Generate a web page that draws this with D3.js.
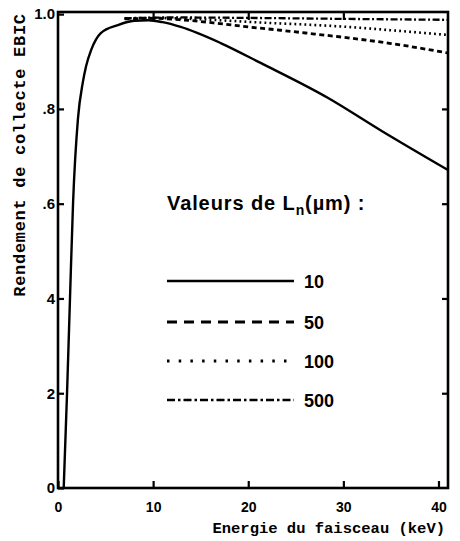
<!DOCTYPE html>
<html>
<head>
<meta charset="utf-8">
<script src="https://cdn.jsdelivr.net/npm/d3@7"></script>
<style>
  html, body { margin: 0; padding: 0; background: #fff; }
  svg { display: block; }
</style>
</head>
<body>
<svg id="chart" width="460" height="541"></svg>
<script>
// ---- data ----
const E10  = [0.6, 0.95, 1.26, 1.58, 2.1, 2.6, 2.95, 3.5, 4.5, 6.3, 8.0, 9.5, 11, 12.9, 17.1, 21.3, 28.4, 33.9, 41];
const R10  = [0, 0.2, 0.4, 0.6, 0.78, 0.855, 0.89, 0.925, 0.96, 0.977, 0.986, 0.987, 0.983, 0.973, 0.939, 0.897, 0.823, 0.755, 0.671];
const E50  = [7, 10, 13, 17, 20, 23.4, 27, 30.5, 35, 41];
const R50  = [0.99, 0.991, 0.988, 0.98, 0.973, 0.966, 0.958, 0.95, 0.938, 0.918];
const E100 = [7, 10, 14, 18, 21.6, 26, 30.5, 35, 41];
const R100 = [0.991, 0.992, 0.99, 0.986, 0.982, 0.978, 0.973, 0.966, 0.956];
const E500 = [7, 12, 20, 30, 41];
const R500 = [0.991, 0.993, 0.992, 0.99, 0.988];

const seriesNames = ["10", "50", "100", "500"];
const xTickValues = [0, 10, 20, 30, 40];
const xTickLabels = ["0", "10", "20", "30", "40"];
const yTickValues = [0, 0.2, 0.4, 0.6, 0.8, 1.0];
const yTickLabels = ["0", "2", "4", ".6", ".8", "1.0"];
const xTitle = "Energie du faisceau (keV)";
const yTitle = "Rendement de collecte EBIC";

// ---- layout ----
const svg = d3.select("#chart");
const L = 58, R = 448, T = 12, B = 488;
const x = d3.scaleLinear().domain([0, 41]).range([L, R]);
const y = d3.scaleLinear().domain([0, 1.0045]).range([B, T]);

svg.append("rect").attr("width", 460).attr("height", 541).attr("fill", "#fff");

const series = [
  { name: seriesNames[0], E: E10,  R: R10,  dash: null,       ldash: null,        w: 2.4 },
  { name: seriesNames[1], E: E50,  R: R50,  dash: "5,3.5",    ldash: "10,7",      w: 2.8 },
  { name: seriesNames[2], E: E100, R: R100, dash: "1.8,3.2",  ldash: "2.5,9.2",   w: 2.6 },
  { name: seriesNames[3], E: E500, R: R500, dash: "7,2.5,2,2.5", ldash: "8,3,2.5,3", w: 2.3 }
];

const line = d3.line().curve(d3.curveMonotoneX).x(d => x(d[0])).y(d => y(d[1]));

const plot = svg.append("g");
series.forEach(s => {
  plot.append("path")
    .datum(s.E.map((e, i) => [e, s.R[i]]))
    .attr("d", line)
    .attr("fill", "none")
    .attr("stroke", "#000")
    .attr("stroke-width", s.w)
    .attr("stroke-dasharray", s.dash);
});

// ---- axes (inward ticks) ----
const tickFont = "'Liberation Sans', Arial, sans-serif";
const gx = svg.append("g").attr("transform", `translate(0,${B})`)
  .call(d3.axisBottom(x).tickValues(xTickValues).tickSize(-7).tickPadding(14)
    .tickFormat((d, i) => xTickLabels[i]));
const gxTop = svg.append("g").attr("transform", `translate(0,${T})`)
  .call(d3.axisTop(x).tickValues([10, 20, 30]).tickSize(-8).tickFormat(""));
const gy = svg.append("g").attr("transform", `translate(${L},0)`)
  .call(d3.axisLeft(y).tickValues(yTickValues).tickSize(-6).tickPadding(3)
    .tickFormat((d, i) => yTickLabels[i]));
const gyR = svg.append("g").attr("transform", `translate(${R},0)`)
  .call(d3.axisRight(y).tickValues([0.2, 0.4, 0.6, 0.8]).tickSize(-6).tickFormat(""));

[gx, gxTop, gy, gyR].forEach(g => {
  g.select(".domain").remove();
  g.selectAll(".tick line").attr("stroke", "#000").attr("stroke-width", 2.2);
  g.selectAll(".tick text").attr("fill", "#000").attr("font-family", tickFont)
    .attr("font-weight", "bold");
});
gx.selectAll(".tick text").attr("font-size", 14);
gy.selectAll(".tick text").attr("font-size", 15);

// frame
svg.append("rect").attr("x", L).attr("y", T).attr("width", R - L).attr("height", B - T)
  .attr("fill", "none").attr("stroke", "#000").attr("stroke-width", 2.6);

// ---- titles ----
const monoFont = "'Liberation Mono', 'DejaVu Sans Mono', monospace";
svg.append("text").attr("x", 445).attr("y", 533).attr("text-anchor", "end")
  .attr("font-family", monoFont).attr("font-size", 15.5).attr("font-weight", "bold")
  .text(xTitle);
svg.append("text").attr("transform", "translate(25,155) rotate(-90)")
  .attr("text-anchor", "middle")
  .attr("font-family", monoFont).attr("font-size", 17).attr("font-weight", "bold")
  .attr("letter-spacing", 0.7)
  .text(yTitle);

// ---- legend ----
const legFont = "'Liberation Sans', Arial, sans-serif";
const lt = svg.append("text").attr("x", 167).attr("y", 210)
  .attr("font-family", legFont).attr("font-size", 20).attr("font-weight", "bold")
  .attr("letter-spacing", 0.9);
lt.append("tspan").text("Valeurs de L");
lt.append("tspan").attr("dy", 5).attr("font-size", 14).text("n");
lt.append("tspan").attr("dy", -5).text("(\u00b5m)  :");

const legY = [281, 322, 361, 400];
series.forEach((s, i) => {
  svg.append("line").attr("x1", 167).attr("x2", 294).attr("y1", legY[i]).attr("y2", legY[i])
    .attr("stroke", "#000").attr("stroke-width", s.w + 0.2).attr("stroke-dasharray", s.ldash);
  svg.append("text").attr("x", 304).attr("y", legY[i] + 6.5)
    .attr("font-family", "'Liberation Sans', Arial, sans-serif")
    .attr("font-size", 18).attr("font-weight", "bold").text(s.name);
});
</script>
</body>
</html>
